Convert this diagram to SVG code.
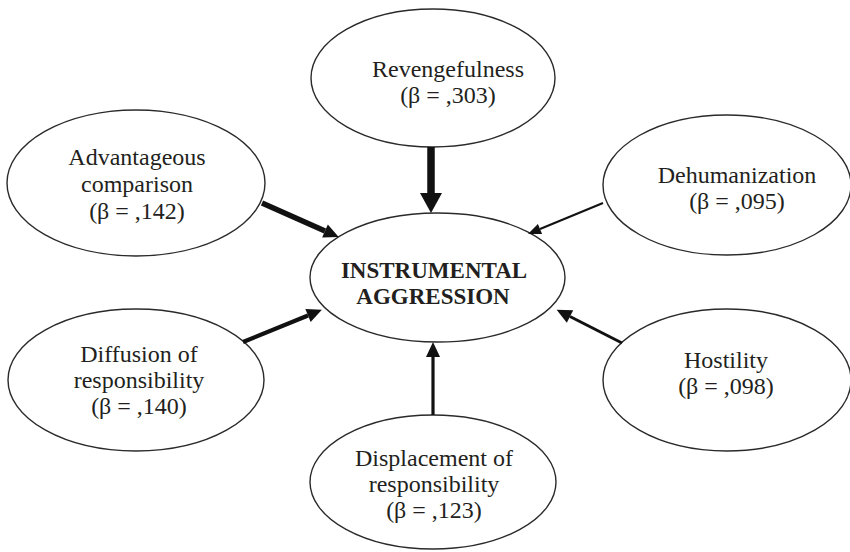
<svg xmlns="http://www.w3.org/2000/svg" width="850" height="552" viewBox="0 0 850 552">
  <style>
    .node ellipse { fill: #ffffff; stroke: #2a2a2a; stroke-width: 1.4; }
    .node text { font-family: "Liberation Serif", "Times New Roman", serif; font-size: 24px; fill: #231f20; text-anchor: middle; }
    #outcome text { font-weight: bold; font-size: 23px; }
    .edge { stroke: #111111; fill: none; stroke-linecap: butt; }
  </style>
  <defs>
    <marker id="head-lg" markerUnits="userSpaceOnUse" viewBox="0 -11 20 22" refX="0" refY="0" markerWidth="20" markerHeight="22" orient="auto" overflow="visible">
      <path d="M0,-11 L20,0 L0,11 Z" fill="#111111"/>
    </marker>
    <marker id="head" markerUnits="userSpaceOnUse" viewBox="0 -7 15 14" refX="0" refY="0" markerWidth="15" markerHeight="14" orient="auto" overflow="visible">
      <path d="M0,-7 L15,0 L0,7 Z" fill="#111111"/>
    </marker>
    <marker id="head-sm" markerUnits="userSpaceOnUse" viewBox="0 -5.5 13 11" refX="0" refY="0" markerWidth="13" markerHeight="11" orient="auto" overflow="visible">
      <path d="M0,-5.5 L13,0 L0,5.5 Z" fill="#111111"/>
    </marker>
  </defs>

  <rect width="850" height="552" fill="#ffffff"/>

  <!-- predictor nodes -->
  <g id="revengefulness" class="node">
    <ellipse cx="433" cy="78" rx="122" ry="69"/>
    <text x="448" y="77">Revengefulness</text>
    <text x="448" y="103">(β = ,303)</text>
  </g>

  <g id="advantageous-comparison" class="node">
    <ellipse cx="136" cy="183" rx="129" ry="73"/>
    <text x="137" y="165">Advantageous</text>
    <text x="137" y="192">comparison</text>
    <text x="137" y="219">(β = ,142)</text>
  </g>

  <g id="dehumanization" class="node">
    <ellipse cx="727" cy="185" rx="124" ry="70"/>
    <text x="737" y="183">Dehumanization</text>
    <text x="737" y="209">(β = ,095)</text>
  </g>

  <g id="diffusion-of-responsibility" class="node">
    <ellipse cx="136" cy="380" rx="128" ry="71"/>
    <text x="139" y="362">Diffusion of</text>
    <text x="139" y="388">responsibility</text>
    <text x="139" y="414">(β = ,140)</text>
  </g>

  <g id="hostility" class="node">
    <ellipse cx="727" cy="380" rx="124" ry="71"/>
    <text x="726" y="368">Hostility</text>
    <text x="726" y="394">(β = ,098)</text>
  </g>

  <g id="displacement-of-responsibility" class="node">
    <ellipse cx="433" cy="482" rx="123" ry="67"/>
    <text x="434" y="466">Displacement of</text>
    <text x="434" y="492">responsibility</text>
    <text x="434" y="518">(β = ,123)</text>
  </g>

  <!-- outcome node -->
  <g id="outcome" class="node">
    <ellipse cx="437.5" cy="277.5" rx="127.5" ry="64.5"/>
    <text x="434" y="278">INSTRUMENTAL</text>
    <text x="433" y="304">AGGRESSION</text>
  </g>

  <!-- paths into the outcome; stroke width follows beta -->
  <g id="connectors">
    <line class="edge" x1="431" y1="147" x2="431" y2="193" stroke-width="7.5" marker-end="url(#head-lg)"/>
    <line class="edge" x1="262" y1="203" x2="325" y2="231" stroke-width="5.5" marker-end="url(#head)"/>
    <line class="edge" x1="603" y1="203" x2="540" y2="229" stroke-width="2" marker-end="url(#head-sm)"/>
    <line class="edge" x1="243" y1="342" x2="308" y2="315.5" stroke-width="4.2" marker-end="url(#head)"/>
    <line class="edge" x1="622" y1="343" x2="570" y2="316.5" stroke-width="3" marker-end="url(#head)"/>
    <line class="edge" x1="433" y1="415" x2="433" y2="357" stroke-width="3.2" marker-end="url(#head)"/>
  </g>
</svg>
